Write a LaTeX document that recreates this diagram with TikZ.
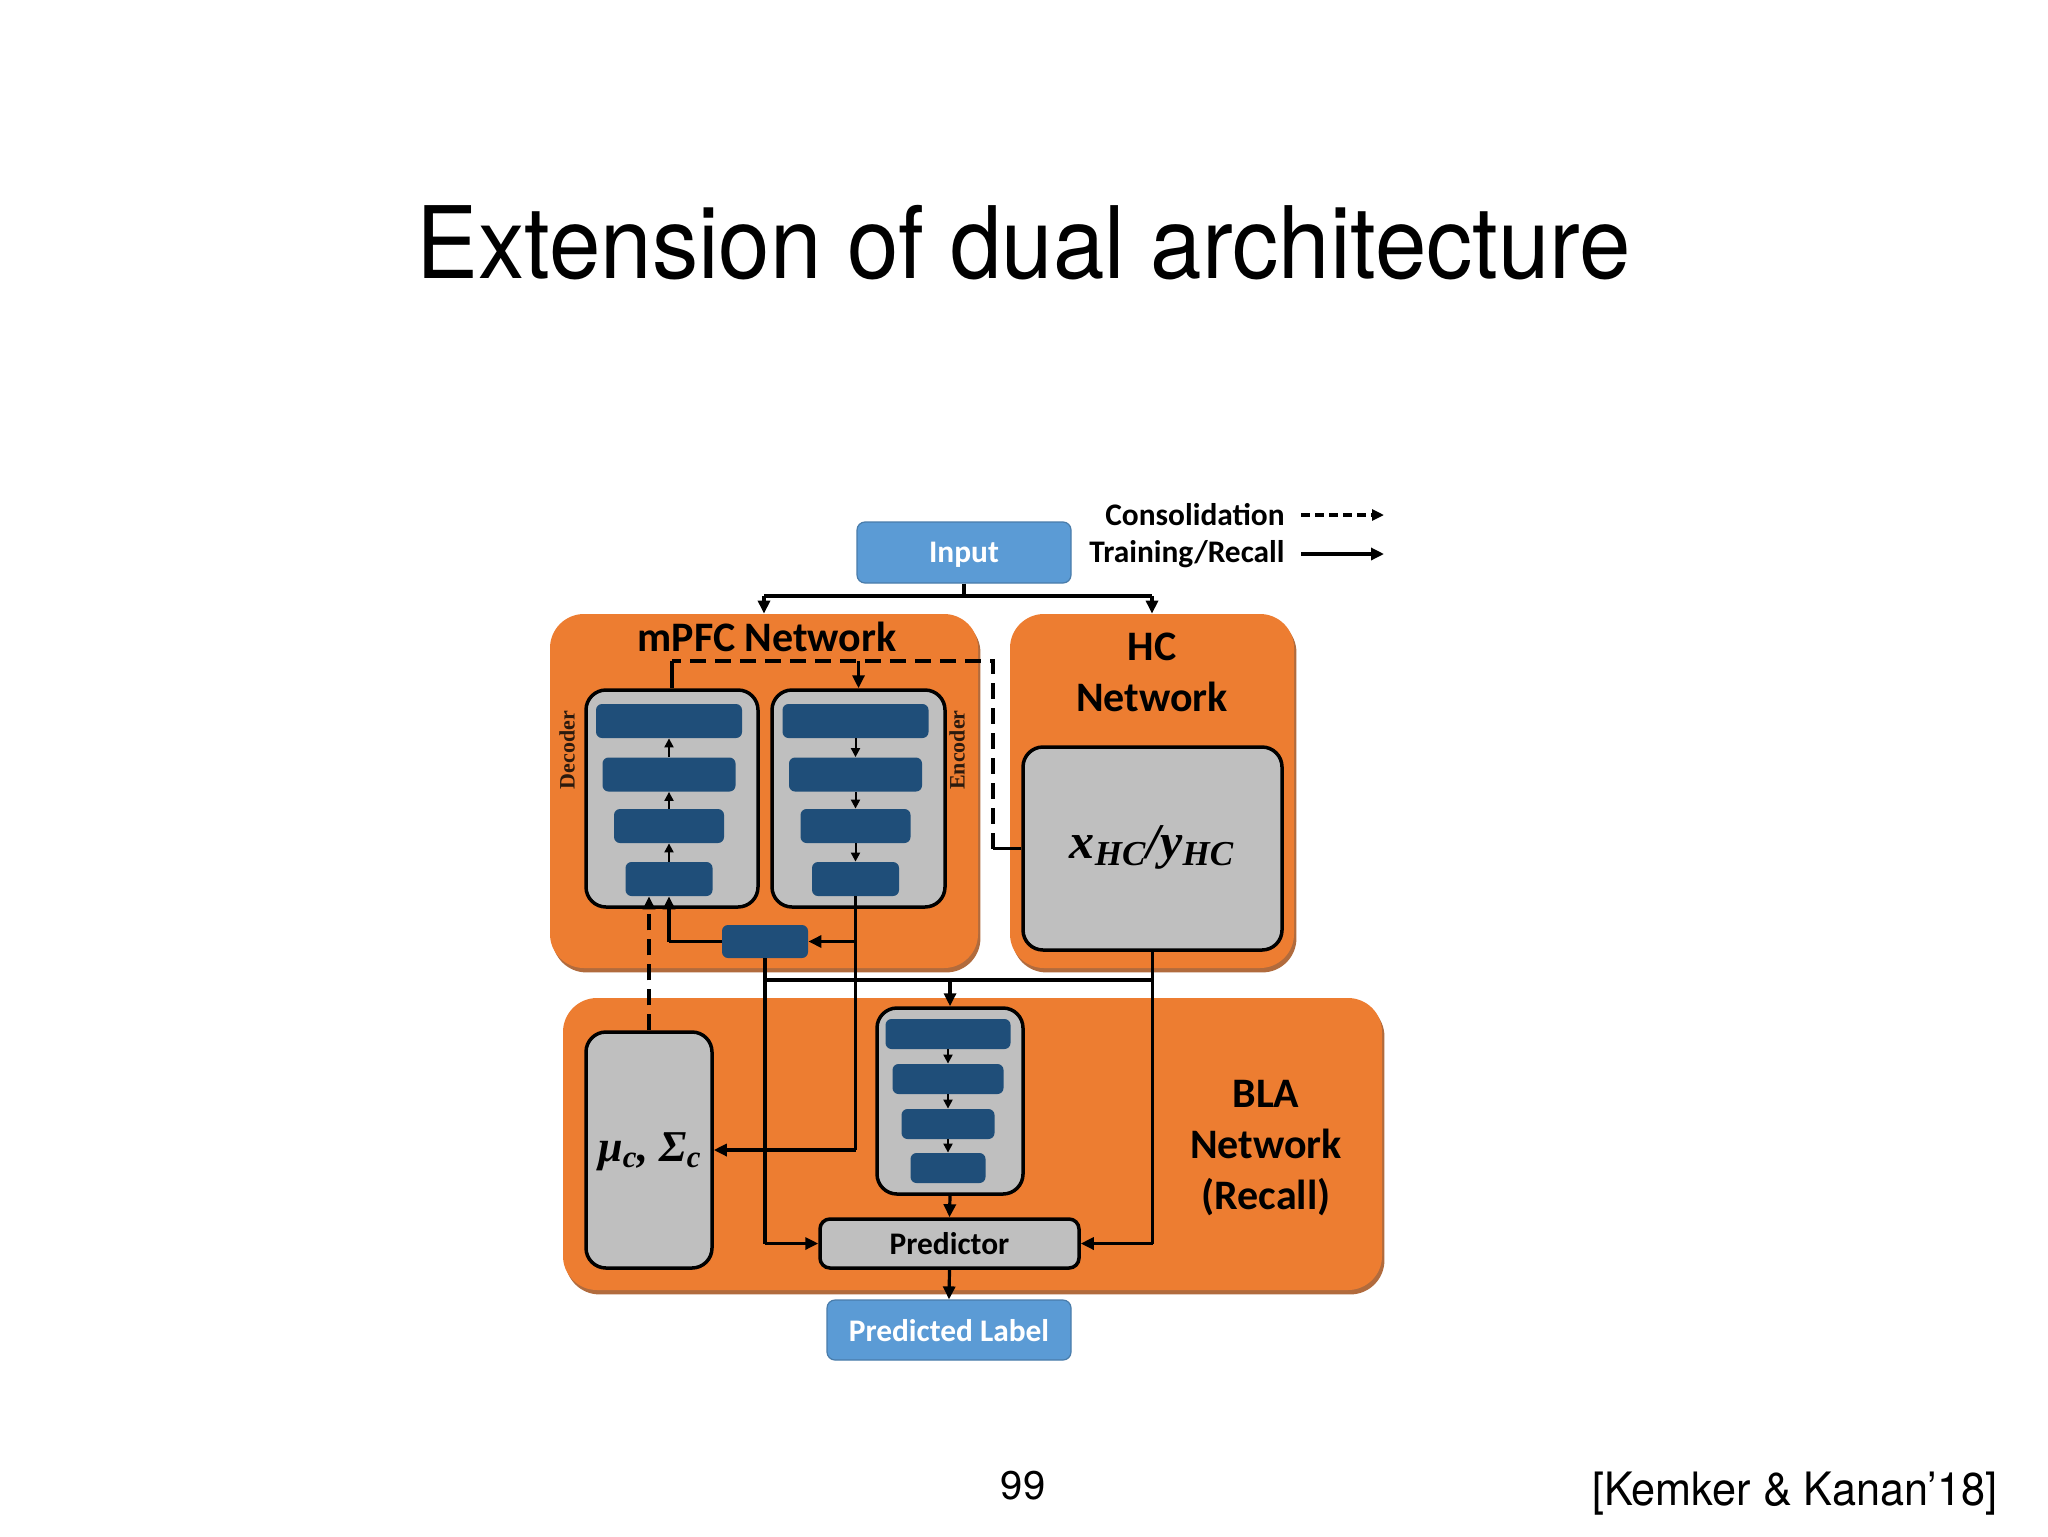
\documentclass[tikz,border=0pt]{standalone}
\usepackage{fontspec}
\usepackage{graphicx}
\usetikzlibrary{arrows.meta,shadows}
\newfontfamily\calib{Carlito}
\newfontfamily\serifb{Liberation Serif}
\newfontfamily\heros{TeX Gyre Heros}
\definecolor{orng}{HTML}{ED7D31}
\definecolor{grayc}{HTML}{BFBFBF}
\definecolor{dblue}{HTML}{1F4E79}
\definecolor{lblue}{HTML}{5B9BD5}
\definecolor{decc}{HTML}{2B1A0E}
\definecolor{shd}{HTML}{A4521C}
\tikzset{
  net/.style={fill=orng, rounded corners=17pt, inner sep=0pt,
    drop shadow={shadow xshift=1.2pt, shadow yshift=-2.2pt, fill=shd, opacity=.85}},
  gbox/.style={fill=grayc, draw=black, line width=1.75pt, rounded corners=10pt, inner sep=0pt},
  blk/.style={fill=dblue, rounded corners=3pt, inner sep=0pt, minimum height=17pt},
  bbox/.style={fill=lblue, draw=lblue!80!black, line width=0.6pt, rounded corners=4pt,
    text=white, inner sep=0pt, text depth=0pt, font=\calib\bfseries\fontsize{15.7}{18}\selectfont},
  lbl/.style={inner sep=0pt, font=\calib\bfseries\fontsize{21}{25.5}\selectfont, align=center},
  leg/.style={inner sep=0pt, anchor=east, font=\calib\bfseries\fontsize{15.7}{18}\selectfont},
  ln/.style={line width=1.6pt},
  arr/.style={ln, -{Triangle[length=6.5pt,width=6pt]}},
  sarr/.style={line width=1pt, -{Triangle[length=4.5pt,width=4.5pt]}},
  dsh/.style={ln, dash pattern=on 8pt off 4.5pt},
}
\begin{document}
\begin{tikzpicture}[x=0.5pt,y=-0.5pt]
\fill[white] (0,0) rectangle (2048,1536);
\useasboundingbox (0,0) rectangle (2048,1536);

% title and footer
\node[font=\heros\fontsize{50}{60}\selectfont, anchor=base, inner sep=0pt] (title) at (1024,278)
  {\scalebox{0.925}[1]{Extension of dual architecture}};
\node[font=\heros\fontsize{20}{24}\selectfont, anchor=base, inner sep=0pt] (pg) at (1023,1499) {99};
\node[font=\heros\fontsize{23}{28}\selectfont, anchor=base east, inner sep=0pt] (cite) at (1998,1505)
  {\scalebox{0.94}[1]{[Kemker \& Kanan’18]}};

% network containers
\node[net, minimum width=214pt, minimum height=177pt] (mpfc) at (764,791) {};
\node[net, minimum width=142pt, minimum height=177pt] (hc) at (1152,791) {};
\node[net, minimum width=409.5pt, minimum height=146pt] (bla) at (972.5,1144) {};

% input / output
\node[bbox, minimum width=107pt, minimum height=30.5pt] (inp) at (964,552.5) {Input};
\node[bbox, minimum width=122pt, minimum height=30pt] (plab) at (949,1330) {Predicted Label};

% legend
\node[leg] (lcons) at (1285,515) {Consolidation};
\node[leg] (ltrain) at (1285,554) {Training/Recall};
\draw[ln, dash pattern=on 4.5pt off 2.5pt, -{Triangle[length=6pt,width=5.5pt]}] ([xshift=8pt]lcons.east) -- ++(83,0);
\draw[arr] ([xshift=8pt]ltrain.east) -- ++(83,0);

% labels
\node[lbl] (mpfcl) at (767,637) {mPFC Network};
\node[lbl] (hcl) at (1152,672) {HC\\Network};
\node[lbl] (blal) at (1266,1148) {BLA\\Network\\(Recall)};

% gray boxes
\node[gbox, minimum width=86pt, minimum height=108.5pt] (dec) at (672,798.5) {};
\node[gbox, minimum width=86.5pt, minimum height=108.5pt] (enc) at (858.5,798.5) {};
\node[gbox, minimum width=129.5pt, minimum height=101.5pt] (hcin) at (1152.5,848.5) {};
\node[gbox, minimum width=63pt, minimum height=118pt] (mu) at (649,1150) {};
\node[gbox, minimum width=73pt, minimum height=93pt] (blag) at (950,1101) {};
\node[gbox, rounded corners=5pt, minimum width=129.5pt, minimum height=24.5pt, text depth=0pt,
  font=\calib\bfseries\fontsize{15.7}{18}\selectfont] (pred) at (949.5,1243.5) {Predictor};

% texts in gray boxes
\node[inner sep=0pt, font=\serifb\bfseries\itshape\fontsize{25}{30}\selectfont] (xhc) at (1152,847)
  {x\textsubscript{HC}/y\textsubscript{HC}};
\node[inner sep=0pt, font=\serifb\bfseries\itshape\fontsize{22}{28}\selectfont] (mul) at (650,1152)
  {μ\textsubscript{c}, Σ\textsubscript{c}};
\node[rotate=90, inner sep=0pt, text=decc, font=\serifb\bfseries\fontsize{11}{13}\selectfont] (declab) at (567,750) {Decoder};
\node[rotate=90, inner sep=0pt, text=decc, font=\serifb\bfseries\fontsize{11}{13}\selectfont] (enclab) at (957,750) {Encoder};

% decoder blocks
\node[blk, minimum width=73pt] (d1) at (669,721) {};
\node[blk, minimum width=66.5pt] (d2) at (669,774.5) {};
\node[blk, minimum width=55pt] (d3) at (669,826) {};
\node[blk, minimum width=43.5pt] (d4) at (669,879) {};
% encoder blocks
\node[blk, minimum width=73pt] (e1) at (855.5,721) {};
\node[blk, minimum width=66.5pt] (e2) at (855.5,774.5) {};
\node[blk, minimum width=55pt] (e3) at (855.5,826) {};
\node[blk, minimum width=43.5pt] (e4) at (855.5,879) {};
% latent
\node[blk, minimum width=43pt, minimum height=16.5pt] (lat) at (765,941.5) {};
% BLA blocks
\node[blk, minimum width=62.5pt, minimum height=15pt] (b1) at (948,1034) {};
\node[blk, minimum width=55.5pt, minimum height=15pt] (b2) at (948,1079) {};
\node[blk, minimum width=46.5pt, minimum height=15pt] (b3) at (948,1124) {};
\node[blk, minimum width=37.5pt, minimum height=15pt] (b4) at (948,1168) {};

% small arrows inside stacks
\draw[sarr] (d4.north) -- (d3.south);
\draw[sarr] (d3.north) -- (d2.south);
\draw[sarr] (d2.north) -- (d1.south);
\draw[sarr] (e1.south) -- (e2.north);
\draw[sarr] (e2.south) -- (e3.north);
\draw[sarr] (e3.south) -- (e4.north);
\draw[sarr] (b1.south) -- (b2.north);
\draw[sarr] (b2.south) -- (b3.north);
\draw[sarr] (b3.south) -- (b4.north);

% input distribution
\coordinate (ibus) at (964,596);
\draw[ln] (inp.south) -- (ibus);
\draw[ln] (mpfc.north |- ibus) -- (hc.north |- ibus);
\draw[arr] (mpfc.north |- ibus) -- (mpfc.north);
\draw[arr] (hc.north |- ibus) -- (hc.north);

% consolidation loop
\coordinate (cdr) at (993,661);
\draw[ln] (hcin.west) -- (hcin.west -| cdr);
\draw[dsh] (hcin.west -| cdr) -- (cdr) -- (dec.north |- cdr);
\draw[ln] (dec.north |- cdr) -- (dec.north);
\draw[arr] (enc.north |- cdr) -- (enc.north);
\draw[dsh, -{Triangle[length=6.5pt,width=6pt]}] (mu.north) -- (mu.north |- d4.south);

% encoder output
\draw[ln] (e4.south) -- (e4.south |- mu.east);
\draw[arr] (e4.south |- mu.east) -- (mu.east);
\draw[arr] (e4.south |- lat.east) -- (lat.east);
% latent to decoder
\draw[ln] (lat.west) -- (d4.south |- lat.west);
\draw[arr] (d4.south |- lat.west) -- (d4.south);
% latent to predictor
\draw[ln] (lat.south) -- (lat.south |- pred.west);
\draw[arr] (lat.south |- pred.west) -- (pred.west);
% HC to predictor
\draw[ln] (hcin.south) -- (hcin.south |- pred.east);
\draw[arr] (hcin.south |- pred.east) -- (pred.east);
% bus into BLA
\coordinate (bbus) at (950,980);
\draw[ln] (lat.south |- bbus) -- (hcin.south |- bbus);
\draw[arr] (blag.north |- bbus) -- (blag.north);
\draw[arr] (blag.south) -- (pred.north);
\draw[arr] (pred.south) -- (plab.north);
\end{tikzpicture}
\end{document}
